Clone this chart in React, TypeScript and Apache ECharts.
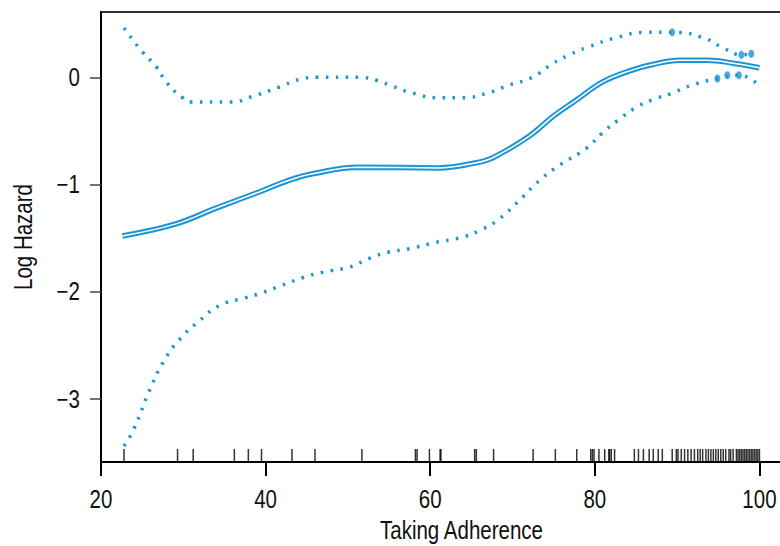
import React, { useEffect, useRef } from "react";
import * as echarts from "echarts";

const fitX = [22.6, 29.0, 34.0, 39.2, 42.5, 45.7, 51.4, 61.0, 65.4, 67.6, 72.0, 75.0, 77.8, 81.0, 84.6, 87.0, 90.3, 93.6, 97.0, 100];
const fitY = [-1.48, -1.37, -1.22, -1.07, -0.97, -0.9, -0.84, -0.845, -0.8, -0.75, -0.55, -0.36, -0.21, -0.04, 0.07, 0.12, 0.16, 0.16, 0.13, 0.09];

const upperX = [22.8, 25.0, 26.7, 28.0, 29.9, 31.0, 35.8, 38.3, 41.7, 44.1, 46.3, 51.4, 53.6, 55.0, 58.0, 61.0, 64.0, 66.8, 69.3, 72.4, 74.7, 76.9, 79.1, 82.6, 86.2, 89.7, 93.5, 95.7, 97.9, 99.2];
const upperY = [0.46, 0.24, 0.1, -0.05, -0.19, -0.23, -0.23, -0.18, -0.09, -0.02, 0.0, 0.0, -0.03, -0.07, -0.15, -0.19, -0.19, -0.15, -0.08, 0.0, 0.12, 0.21, 0.28, 0.37, 0.42, 0.42, 0.36, 0.27, 0.21, 0.22];

const lowerX = [22.8, 24.0, 25.9, 27.7, 29.5, 32.0, 34.4, 37.4, 39.6, 42.0, 44.5, 46.9, 50.2, 52.6, 55.0, 57.5, 60.7, 63.5, 66.0, 68.4, 70.8, 73.3, 75.7, 79.0, 80.9, 82.8, 84.8, 87.0, 89.3, 91.5, 94.9, 97.5, 98.8, 100];
const lowerY = [-3.44, -3.28, -2.92, -2.64, -2.45, -2.27, -2.13, -2.06, -2.01, -1.94, -1.87, -1.82, -1.77, -1.69, -1.63, -1.6, -1.54, -1.5, -1.43, -1.32, -1.15, -0.96, -0.82, -0.66, -0.52, -0.4, -0.29, -0.21, -0.15, -0.08, -0.01, 0.02, -0.01, -0.08];

const blobX = [89.4, 97.8, 99.0, 94.9, 96.1, 97.5];
const blobY = [0.42, 0.21, 0.22, -0.01, 0.02, 0.02];

const rugX = [
  22.8, 29.3, 31.2, 36.2, 37.9, 39.5, 43.2, 46.0, 51.7, 58.2, 58.4, 59.9,
  61.2, 61.3, 65.4, 65.6, 67.7, 72.5, 75.2, 77.8,
  79.5, 79.7, 79.9, 80.5, 81.2, 81.7, 81.8, 82.0, 82.4, 84.8, 85.3, 85.9, 86.6, 87.1, 87.7, 88.2, 89.4, 89.9, 90.1,
  90.5, 90.9, 91.3, 91.7, 92.1, 92.5, 92.8, 93.1, 93.5, 93.8, 94.1, 94.4, 94.7, 95.0, 95.3, 95.6, 95.9, 96.3, 96.5, 96.8, 97.2, 97.4,
  97.6, 97.8, 98.0, 98.2, 98.4, 98.6, 98.8, 99.0, 99.2, 99.4, 99.6, 99.8, 100,
];

const xTicks = [20, 40, 60, 80, 100];
const yTicks = [-3, -2, -1, 0];
const xTitle = "Taking Adherence";
const yTitle = "Log Hazard";

const X_MIN = 20;
const X_MAX = 107.6;
const Y_MIN = -3.59;
const Y_MAX = 0.61;

const BLUE = "#1b95d3";
const FONT = "'Liberation Sans', Arial, sans-serif";
const FONT_SIZE = 25;
const SQUEEZE = 0.82;

const zip = (xs: number[], ys: number[]) => xs.map((x, i) => [x, ys[i]]);

export default function App() {
  const ref = useRef<HTMLDivElement>(null);
  useEffect(() => {
    if (!ref.current) return;
    const chart = echarts.init(ref.current, null, { renderer: "svg" });
    const dotted = {
      type: "line",
      smooth: true,
      showSymbol: false,
      symbol: "none",
      lineStyle: { color: BLUE, width: 3.5, type: [2.5, 7.5], cap: "butt" },
      z: 3,
    };
    chart.setOption({
      animation: false,
      backgroundColor: "#fff",
      grid: {
        left: 101,
        top: 12,
        bottom: 84,
        right: 0,
        show: true,
        borderColor: "#333",
        borderWidth: 2,
        containLabel: false,
      },
      xAxis: {
        type: "value",
        min: X_MIN,
        max: X_MAX,
        axisLine: { show: true, onZero: false, lineStyle: { color: "#000", width: 2 } },
        axisTick: { show: true, customValues: xTicks, length: 14, lineStyle: { color: "#000", width: 2 } },
        axisLabel: { show: false },
        splitLine: { show: false },
      },
      yAxis: {
        type: "value",
        min: Y_MIN,
        max: Y_MAX,
        axisLine: { show: true, onZero: false, lineStyle: { color: "#000", width: 2 } },
        axisTick: { show: true, customValues: yTicks, length: 11, lineStyle: { color: "#444", width: 1.5 } },
        axisLabel: { show: false },
        splitLine: { show: false },
      },
      series: [
        { ...dotted, name: "upper", data: zip(upperX, upperY) },
        { ...dotted, name: "lower", data: zip(lowerX, lowerY) },
        {
          type: "scatter",
          name: "blobs",
          data: zip(blobX, blobY),
          symbol: "circle",
          symbolSize: [6, 8],
          itemStyle: { color: BLUE },
          z: 3,
        },
        {
          type: "line",
          name: "fit",
          smooth: 0.4,
          showSymbol: false,
          symbol: "none",
          data: zip(fitX, fitY),
          lineStyle: { color: BLUE, width: 5.5 },
          z: 4,
        },
        {
          type: "line",
          name: "fitInner",
          smooth: 0.4,
          showSymbol: false,
          symbol: "none",
          data: zip(fitX, fitY),
          lineStyle: { color: "#fff", width: 1.5 },
          z: 5,
        },
        {
          type: "scatter",
          name: "rug",
          data: rugX.map((x) => [x, Y_MIN]),
          symbol: "rect",
          symbolSize: [1.5, 13],
          symbolOffset: [0, -6.5],
          itemStyle: { color: "#000" },
          z: 2,
        },
      ],
    });

    const px = (x: number, y: number) =>
      chart.convertToPixel({ xAxisIndex: 0, yAxisIndex: 0 }, [x, y]) as number[];
    const [axisLeft, axisBottom] = px(X_MIN, Y_MIN);
    const [, axisTop] = px(X_MIN, Y_MAX);
    const textStyle = (text: string, align: string) => ({
      text,
      x: 0,
      y: 0,
      fill: "#111",
      font: `${FONT_SIZE}px ${FONT}`,
      textAlign: align,
      textVerticalAlign: "middle",
    });
    const elements: any[] = [];
    xTicks.forEach((v) => {
      const [x] = px(v, Y_MIN);
      elements.push({
        type: "text",
        x,
        y: axisBottom + 37,
        scaleX: SQUEEZE,
        style: textStyle(String(v), "center"),
      });
    });
    yTicks.forEach((v) => {
      const [, y] = px(X_MIN, v);
      elements.push({
        type: "text",
        x: axisLeft - 21,
        y,
        scaleX: SQUEEZE,
        style: textStyle(String(v).replace("-", "\u2212"), "right"),
      });
    });
    const [midX] = px((X_MIN + X_MAX) / 2, Y_MIN);
    elements.push({
      type: "text",
      x: midX,
      y: axisBottom + 68,
      scaleX: SQUEEZE,
      style: textStyle(xTitle, "center"),
    });
    elements.push({
      type: "text",
      x: axisLeft - 78,
      y: (axisTop + axisBottom) / 2,
      rotation: Math.PI / 2,
      scaleX: SQUEEZE,
      style: textStyle(yTitle, "center"),
    });
    chart.setOption({ graphic: { elements } });

    return () => chart.dispose();
  }, []);
  return (
    <div style={{ position: "absolute", left: 0, top: 0, width: 780, height: 546, overflow: "hidden" }}>
      <div ref={ref} style={{ width: 822, height: 546 }} />
    </div>
  );
}
